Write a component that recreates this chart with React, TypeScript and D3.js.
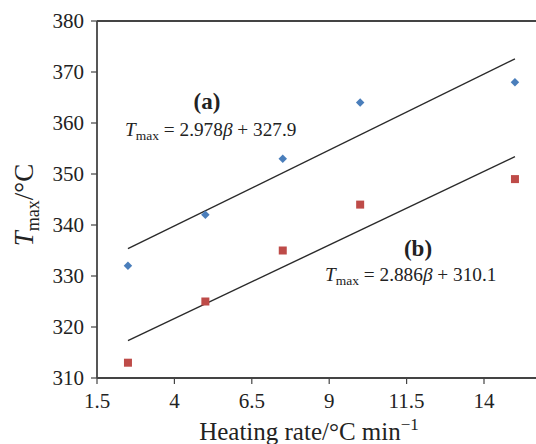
import React from 'react';
import * as d3 from 'd3';

const heatingRates = [2.5, 5, 7.5, 10, 15];
const seriesA = [332, 342, 353, 364, 368];
const seriesB = [313, 325, 335, 344, 349];
const fitA = { slope: 2.978, intercept: 327.9 };
const fitB = { slope: 2.886, intercept: 310.1 };
const fitRange = [2.5, 15];
const xTicks = [1.5, 4, 6.5, 9, 11.5, 14];
const yTicks = [310, 320, 330, 340, 350, 360, 370, 380];

const W = 536;
const H = 444;
const FONT = '"Liberation Serif", "Times New Roman", serif';
const BLUE = '#4a7ebb';
const RED = '#be4b48';
const AXIS = '#444';

export default function App() {
  const x = d3.scaleLinear().domain([1.5, 16]).range([97, 97 + 14.5 * 30.96]);
  const y = d3.scaleLinear().domain([310, 380]).range([378, 21]);

  const fitLine = (f: { slope: number; intercept: number }) =>
    d3
      .line<number>()
      .x((d) => x(d))
      .y((d) => y(f.slope * d + f.intercept))(fitRange) || '';

  const diamond = d3.symbol().type(d3.symbolDiamond2).size(46)() || '';
  const left = x(1.5);
  const bottom = y(310);
  const top = y(380);

  return (
    <svg
      width={W}
      height={H}
      style={{ position: 'absolute', left: 0, top: 0, background: '#fff' }}
      fontFamily={FONT}
    >
      <rect x={0} y={0} width={W} height={H} fill="#fff" />
      {/* fit lines */}
      <path d={fitLine(fitA)} stroke="#2a2a2a" strokeWidth={1.4} fill="none" />
      <path d={fitLine(fitB)} stroke="#2a2a2a" strokeWidth={1.4} fill="none" />
      {/* points */}
      {heatingRates.map((r, i) => (
        <path
          key={'a' + i}
          d={diamond}
          transform={`translate(${x(r)},${y(seriesA[i])})`}
          fill={BLUE}
        />
      ))}
      {heatingRates.map((r, i) => (
        <rect
          key={'b' + i}
          x={x(r) - 4}
          y={y(seriesB[i]) - 4}
          width={8}
          height={8}
          fill={RED}
        />
      ))}
      {/* axes */}
      <line x1={left} x2={W} y1={top} y2={top} stroke={AXIS} strokeWidth={1.8} />
      <line x1={left} x2={W} y1={bottom} y2={bottom} stroke={AXIS} strokeWidth={1.8} />
      <line x1={left} x2={left} y1={top} y2={bottom} stroke={AXIS} strokeWidth={1.8} />
      {yTicks.map((t) => (
        <g key={'y' + t}>
          <line x1={left - 6} x2={left} y1={y(t)} y2={y(t)} stroke={AXIS} strokeWidth={1.2} />
          <text x={84} y={y(t) + 7} textAnchor="end" fontSize={21} fill="#222">
            {t}
          </text>
        </g>
      ))}
      {xTicks.map((t) => (
        <g key={'x' + t}>
          <line x1={x(t)} x2={x(t)} y1={bottom} y2={bottom + 6} stroke={AXIS} strokeWidth={1.2} />
          <text x={x(t)} y={408} textAnchor="middle" fontSize={21} fill="#222">
            {t}
          </text>
        </g>
      ))}
      {/* axis titles */}
      <text x={309} y={440} textAnchor="middle" fontSize={25} fill="#222">
        Heating rate/°C min
        <tspan fontSize={17} dy={-10}>
          −1
        </tspan>
      </text>
      <text transform="translate(33,205) rotate(-90)" textAnchor="middle" fontSize={27} fill="#222">
        <tspan fontStyle="italic">T</tspan>
        <tspan fontSize={18} dy={6}>
          max
        </tspan>
        <tspan dy={-6}>/°C</tspan>
      </text>
      {/* annotations */}
      <text x={207} y={109} textAnchor="middle" fontSize={23} fontWeight="bold" fill="#222">
        (a)
      </text>
      <text x={125} y={136} fontSize={19.3} fill="#222">
        <tspan fontStyle="italic">T</tspan>
        <tspan fontSize={13.5} dy={4}>
          max
        </tspan>
        <tspan dy={-4}> = 2.978</tspan>
        <tspan fontStyle="italic">β</tspan>
        <tspan> + 327.9</tspan>
      </text>
      <text x={418} y={256} textAnchor="middle" fontSize={23} fontWeight="bold" fill="#222">
        (b)
      </text>
      <text x={325} y={281} fontSize={19.3} fill="#222">
        <tspan fontStyle="italic">T</tspan>
        <tspan fontSize={13.5} dy={4}>
          max
        </tspan>
        <tspan dy={-4}> = 2.886</tspan>
        <tspan fontStyle="italic">β</tspan>
        <tspan> + 310.1</tspan>
      </text>
    </svg>
  );
}
